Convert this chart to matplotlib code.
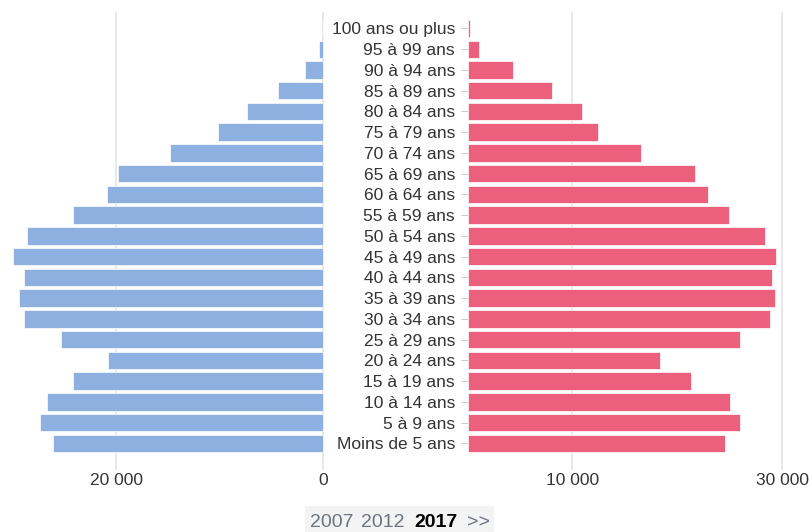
import matplotlib
matplotlib.use("Agg")
import matplotlib.pyplot as plt
from matplotlib.patches import Rectangle

plt.rcParams['font.family'] = ['Liberation Sans', 'DejaVu Sans']

categories = ["100 ans ou plus", "95 à 99 ans", "90 à 94 ans", "85 à 89 ans",
              "80 à 84 ans", "75 à 79 ans", "70 à 74 ans", "65 à 69 ans",
              "60 à 64 ans", "55 à 59 ans", "50 à 54 ans", "45 à 49 ans",
              "40 à 44 ans", "35 à 39 ans", "30 à 34 ans", "25 à 29 ans",
              "20 à 24 ans", "15 à 19 ans", "10 à 14 ans", "5 à 9 ans",
              "Moins de 5 ans"]
hommes = [60, 390, 1770, 4350, 7400, 10140, 14810, 19810, 20930, 24150, 28600,
          30010, 28920, 29400, 28920, 25370, 20770, 24150, 26730, 27370, 26150]
femmes = [260, 1115, 4290, 8100, 10960, 12460, 16560, 21730, 22950, 24920, 28380,
          29430, 29020, 29300, 28860, 25970, 18370, 21260, 25040, 25970, 24570]
left_ticks = [0, 20000]
left_labels = ["0", "20 000"]
right_ticks = [10000, 30000]
right_labels = ["10 000", "30 000"]
years = ["2007", "2012", "2017"]
selected_year = "2017"

W, H = 809, 532
fig = plt.figure(figsize=(W / 100, H / 100), dpi=100)

def px_axes(x0, x1, y0, y1):
    return fig.add_axes([x0 / W, 1 - y1 / H, (x1 - x0) / W, (y1 - y0) / H])

blue = "#8eb0e0"
pink = "#ec607e"
grid_c = "#e6e6e6"
txt_c = "#333333"

top_px, bot_px = 12, 470
first_c, last_c = 28.5, 443.3
step = (last_c - first_c) / (len(categories) - 1)
y_top = -(first_c - top_px) / step
y_bot = (len(categories) - 1) + (bot_px - last_c) / step
ypos = list(range(len(categories)))

# left (men)
axL = px_axes(10, 323.5, top_px, bot_px)
scaleL = (323.5 - 116.3) / 20000
axL.set_xlim((323.5 - 10) / scaleL, 0)
axL.set_ylim(y_bot, y_top)
axL.barh(ypos, hommes, height=0.84, color=blue, edgecolor="white", linewidth=0.5, zorder=2)

# right (women)
axR = px_axes(467.5, 800, top_px, bot_px)
scaleR = 10.49 / 1000
axR.set_xlim(0, (800 - 467.5) / scaleR)
axR.set_ylim(y_bot, y_top)
axR.barh(ypos, femmes, height=0.84, color=pink, edgecolor="white", linewidth=0.5, zorder=2)

for ax, ticks, labels in [(axL, left_ticks, left_labels), (axR, right_ticks, right_labels)]:
    for s in ax.spines.values():
        s.set_visible(False)
    ax.set_xticks(ticks)
    ax.set_xticklabels(labels)
    ax.tick_params(axis="x", length=0, pad=2, labelsize=12.5, labelcolor=txt_c)
    for t in ticks:
        ax.axvline(t, color=grid_c, lw=1.3, zorder=0)

axL.set_yticks([])
axR.set_yticks(ypos)
axR.set_yticklabels(categories)
axR.tick_params(axis="y", length=5.2, width=0.8, color="#cccccc", pad=3.8,
                labelsize=12.5, labelcolor=txt_c)

# year selector
fig.patches.append(Rectangle((305 / W, 0), 189 / W, 26 / H, transform=fig.transFigure,
                             facecolor="#f3f3f3", edgecolor="none"))
year_x = [331.7, 382.5, 436]
for yx, yr in zip(year_x, years):
    bold = yr == selected_year
    fig.text(yx / W, 1 - 527 / H, yr, ha="center", va="baseline", fontsize=14,
             color="#000000" if bold else "#6b7480",
             fontweight="bold" if bold else "normal")
fig.text(478 / W, 1 - 527 / H, ">>", ha="center", va="baseline", fontsize=14, color="#6b7480")

fig.savefig("out.png", dpi=100)
